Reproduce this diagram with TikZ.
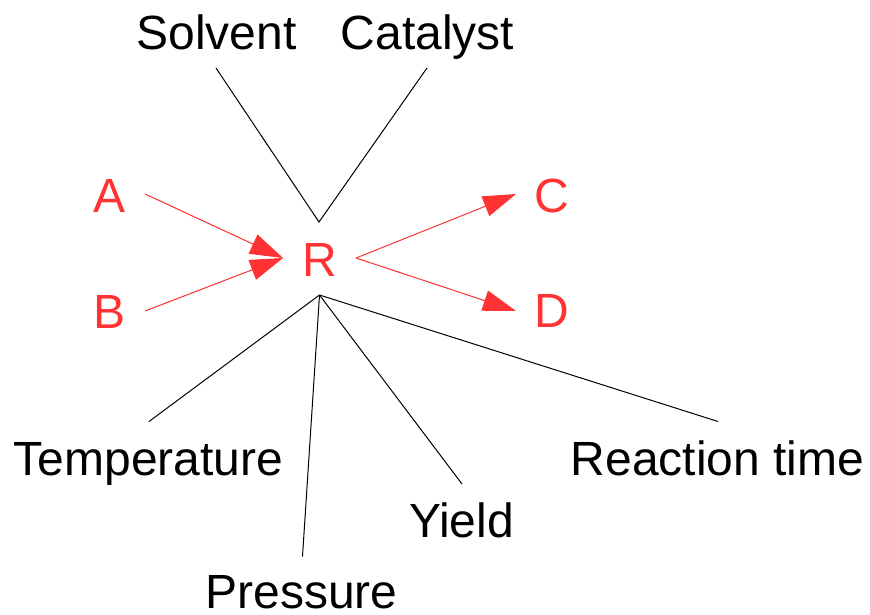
\documentclass[tikz,border=0pt]{standalone}
\usepackage{fontspec}
\setmainfont{Liberation Sans}
\usetikzlibrary{arrows.meta}
\definecolor{rred}{RGB}{255,51,51}
\tikzset{
  lbl/.style={anchor=base, inner sep=0pt, font=\fontsize{48}{56}\selectfont},
  rlbl/.style={lbl, text=rred},
  blk/.style={draw=black, line width=1pt},
  rarr/.style={draw=rred, line width=1pt, -{Triangle[length=33pt,width=21pt]}, fill=rred}
}
\begin{document}
\begin{tikzpicture}[x=1pt,y=-1pt]
\useasboundingbox (0,0) rectangle (870,615);
% labels
\node[lbl] (solvent) at (216.5,50) {Solvent};
\node[lbl] (catalyst) at (427.5,50) {Catalyst};
\node[rlbl] (A) at (110,212) {A};
\node[rlbl] (B) at (110,328) {B};
\node[rlbl] (R) at (319.5,276) {R};
\node[rlbl] (C) at (552,212) {C};
\node[rlbl] (D) at (552,327) {D};
\node[lbl] (temp) at (148.5,475) {Temperature};
\node[lbl] (press) at (301.5,608) {Pressure};
\node[lbl] (yield) at (461.5,537) {Yield};
\node[lbl] (rtime) at (717.5,475) {Reaction time};
% line ends
\coordinate (sTop) at (216,68);
\coordinate (cTop) at (427,68);
\coordinate (rTop) at (319,222);
\coordinate (rBot) at (319.5,295);
\coordinate (rIn) at (283,258);
\coordinate (rOut) at (356,258);
\coordinate (aEnd) at (145,194);
\coordinate (bEnd) at (145,311);
\coordinate (cEnd) at (516,194);
\coordinate (dEnd) at (516,311);
\coordinate (tEnd) at (149,421.5);
\coordinate (pEnd) at (302.5,556.5);
\coordinate (yEnd) at (462,484);
\coordinate (rtEnd) at (718,421.5);
% black lines
\draw[blk] (sTop) -- (rTop) -- (cTop);
\draw[blk] (rBot) -- (tEnd);
\draw[blk] (rBot) -- (pEnd);
\draw[blk] (rBot) -- (yEnd);
\draw[blk] (rBot) -- (rtEnd);
% red arrows
\draw[rarr] (aEnd) -- (rIn);
\draw[rarr] (bEnd) -- (rIn);
\draw[rarr] (rOut) -- (cEnd);
\draw[rarr] (rOut) -- (dEnd);
\end{tikzpicture}
\end{document}
